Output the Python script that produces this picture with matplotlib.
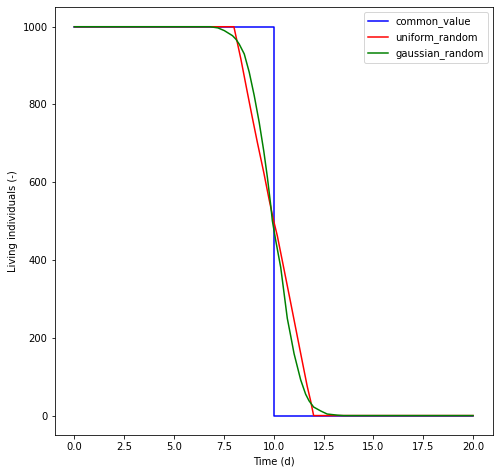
import matplotlib
matplotlib.use("Agg")
import matplotlib.pyplot as plt

# common_value: every individual dies at t=10
common_t = [0.0, 10.0, 10.0, 20.0]
common_n = [1000, 1000, 0, 0]

# uniform_random
uniform_t = [0.0, 8.0, 8.35, 8.68, 8.93, 9.18, 9.5, 9.77, 10.0, 10.18, 10.5,
             10.85, 11.35, 11.68, 11.85, 12.0, 20.0]
uniform_n = [1000, 1000, 917, 830, 765, 702, 625, 555, 500, 462, 380,
             290, 160, 75, 38, 0, 0]

# gaussian_random
gauss_t = [0.0, 6.8, 7.2, 7.52, 7.93, 8.1, 8.27, 8.52, 8.77, 9.02, 9.27, 9.5,
           9.68, 9.85, 9.93, 10.1, 10.35, 10.68, 10.85, 11.02, 11.35, 11.6,
           11.77, 12.0, 12.35, 12.68, 13.2, 13.5, 20.0]
gauss_n = [1000, 1000, 997, 990, 977, 968, 955, 930, 883, 823, 754, 680,
           613, 540, 501, 450, 381, 250, 205, 159, 92, 55,
           38, 22, 12, 4, 1, 0, 0]

fig = plt.figure(figsize=(500 / 72, 473 / 72), dpi=72)
ax = fig.add_axes([0.109, 0.0803, 0.877, 0.9043])

ax.plot(common_t, common_n, color="blue", label="common_value")
ax.plot(uniform_t, uniform_n, color="red", label="uniform_random")
ax.plot(gauss_t, gauss_n, color="green", label="gaussian_random")

ax.set_xlabel("Time (d)")
ax.set_ylabel("Living individuals (-)")
ax.legend(loc="upper right")

fig.savefig("out.png", dpi=72)
